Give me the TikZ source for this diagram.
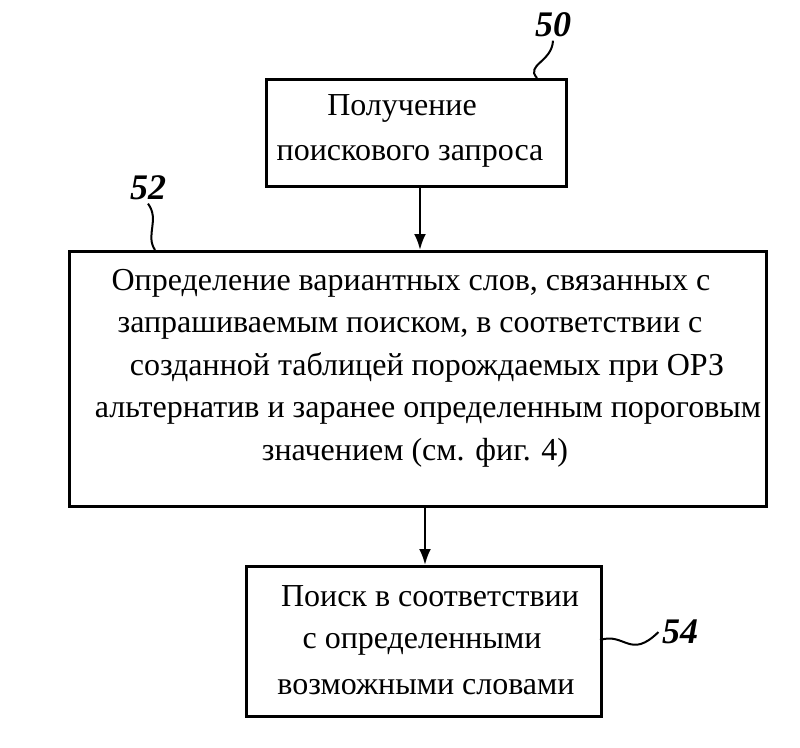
\documentclass[tikz,border=0pt]{standalone}
\usepackage{fontspec}
\setmainfont{Liberation Serif}
\usetikzlibrary{arrows.meta}
\begin{document}
\begin{tikzpicture}[x=1pt,y=-1pt,
  box/.style={draw,line width=3pt},
  txt/.style={font=\fontsize{32}{40}\selectfont,anchor=base},
  lbl/.style={font=\fontsize{36}{36}\selectfont\bfseries\itshape},
  arr/.style={line width=2.5pt,-{Latex[length=16pt,width=12pt]}},
  sq/.style={line width=2pt}]
\useasboundingbox (0,0) rectangle (800,747);
\node[box,minimum width=300,minimum height=107,anchor=north west] (b50) at (265,78) {};
\node[box,minimum width=697,minimum height=255,anchor=north west] (b52) at (68,250) {};
\node[box,minimum width=355,minimum height=150,anchor=north west] (b54) at (245,565) {};
\node[txt] (t1) at (402,115) {Получение};
\node[txt] (t2) at (410,160) {поискового запроса};
\node[txt] (t3) at (411,290) {Определение вариантных слов, связанных с};
\node[txt] (t4) at (410,332) {запрашиваемым поиском, в соответствии с};
\node[txt] (t5) at (427,375) {созданной таблицей порождаемых при ОРЗ};
\node[txt] (t6) at (428,417) {альтернатив и заранее определенным пороговым};
\node[txt] (t7) at (415,460) {значением (см. фиг. 4)};
\node[txt] (t8) at (430,606) {Поиск в соответствии};
\node[txt] (t9) at (422,648) {с определенными};
\node[txt] (t10) at (426,694) {возможными словами};
\draw[arr] (b50.south -| 420,0) -- (b52.north -| 420,0);
\draw[arr] (b52.south -| 425,0) -- (b54.north -| 425,0);
\node[lbl] (l50) at (553,25) {50};
\node[lbl] (l52) at (148,188) {52};
\node[lbl] (l54) at (680,632) {54};
\coordinate (s50) at (537,78);
\coordinate (s52) at (155,250);
\coordinate (s54) at (600,640);
\draw[sq] (s50) .. controls (525,65) and (552,62) .. (l50.south);
\draw[sq] (s52) .. controls (145,235) and (160,220) .. (l52.south);
\draw[sq] (s54) .. controls (625,632) and (630,660) .. (l54.west);
\end{tikzpicture}
\end{document}
